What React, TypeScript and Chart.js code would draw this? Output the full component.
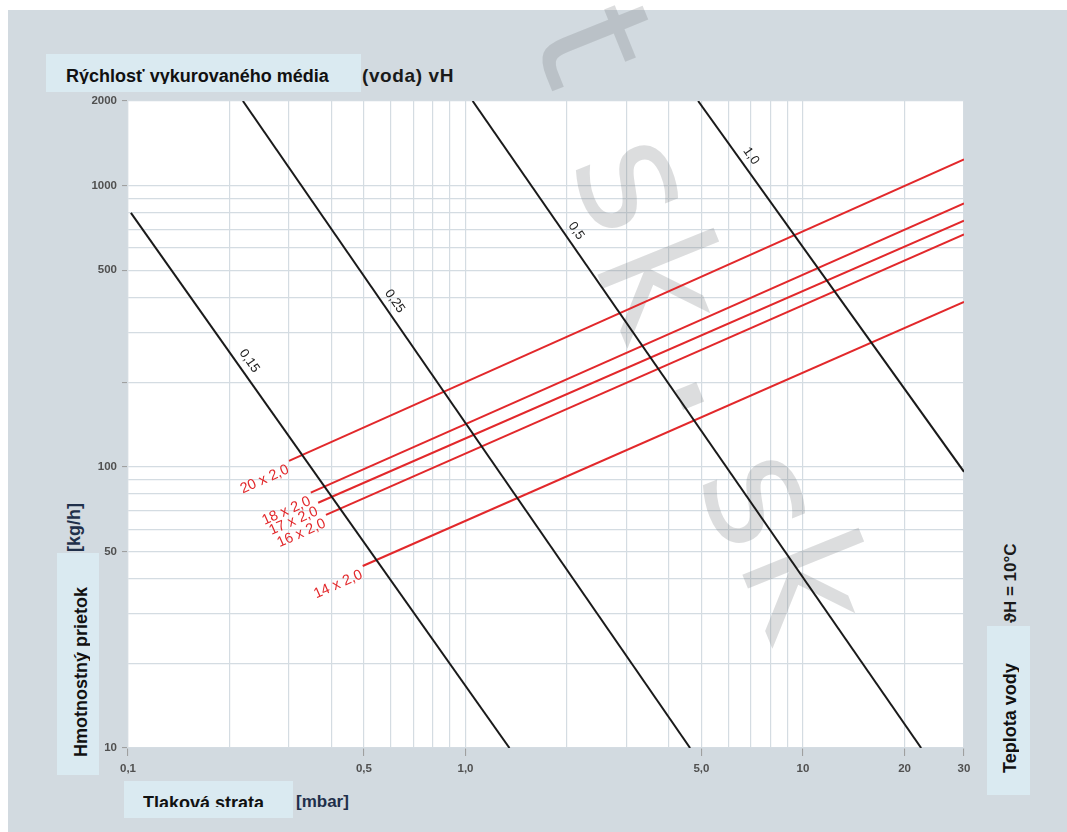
import React, { useEffect, useRef } from 'react';
import { Chart, registerables } from 'chart.js';

Chart.register(...registerables);

// ---------- axis data ----------
const xGridValues = [0.1, 0.2, 0.3, 0.4, 0.5, 0.6, 0.7, 0.8, 0.9, 1, 2, 3, 4, 5, 6, 7, 8, 9, 10, 20, 30];
const xTickValues = [0.1, 0.5, 1, 5, 10, 20, 30];
const xTickTexts = ['0,1', '0,5', '1,0', '5,0', '10', '20', '30'];

const yGridValues = [10, 20, 30, 40, 50, 60, 70, 80, 90, 100, 200, 300, 400, 500, 600, 700, 800, 900, 1000, 2000];
const yTickValues = [10, 50, 100, 200, 500, 1000, 2000];
const yTickTexts = ['10', '50', '100', '', '500', '1000', '2000'];

// ---------- velocity lines (black) ----------
const velocityLabels = ['0,15', '0,25', '0,5', '1,0'];
const velocityStartX = [0.102, 0.219, 1.05, 4.89];
const velocityStartY = [800, 2000, 2000, 2000];
const velocityEndX = [1.35, 4.63, 22.4, 30];
const velocityEndY = [10, 10, 10, 96];
const velocityLabelX = [0.215, 0.58, 2.0, 6.6];

// ---------- pipe lines (red) ----------
const pipeLabels = ['20 x 2,0', '18 x 2,0', '17 x 2,0', '16 x 2,0', '14 x 2,0'];
const pipeStartX = [0.3, 0.348, 0.366, 0.386, 0.496];
const pipeStartY = [105, 81, 74.5, 67.5, 44.4];
const pipeEndX = [30, 30, 30, 30, 30];
const pipeEndY = [1240, 865, 750, 671, 386];

// ---------- watermark glyphs ----------
const watermarkChars = ['t', 's', 'k', '·', 's', 'k'];

const GRID = '#d4dce2';
const PANEL = '#d2dae0';
const BOX = '#daeaf1';
const RED = '#e2282b';
const BLACK = '#1a1a1a';
const FONT = '"Liberation Sans", Arial, sans-serif';

const sameVal = (a: number, b: number) => Math.abs(Math.log10(a) - Math.log10(b)) < 1e-6;
const labelFor = (v: number, vals: number[], texts: string[]) => {
  const i = vals.findIndex((t) => sameVal(t, v));
  return i >= 0 ? texts[i] : '';
};
const isTick = (v: any, vals: number[]) => typeof v === 'number' && vals.some((t) => sameVal(t, v));

const logInterp = (x: number, x0: number, y0: number, x1: number, y1: number) => {
  const t = (Math.log10(x) - Math.log10(x0)) / (Math.log10(x1) - Math.log10(x0));
  return Math.pow(10, Math.log10(y0) + t * (Math.log10(y1) - Math.log10(y0)));
};

// decorative watermark placement (page pixels)
const WM_POS = [
  [574, 52],
  [618, 190],
  [642, 292],
  [680, 400],
  [745, 505],
  [787, 592],
];

const decorPlugin = {
  id: 'decor',
  beforeDraw(chart: any) {
    const { ctx, chartArea: a } = chart;
    ctx.save();
    ctx.fillStyle = '#ffffff';
    ctx.fillRect(a.left, a.top, a.right - a.left, a.bottom - a.top);
    ctx.restore();
  },
  beforeDatasetsDraw(chart: any) {
    const { ctx } = chart;
    ctx.save();
    ctx.fillStyle = 'rgba(120,124,126,0.26)';
    ctx.textAlign = 'center';
    ctx.textBaseline = 'middle';
    watermarkChars.forEach((ch, i) => {
      ctx.save();
      ctx.font = ch === '·' ? 'bold 120px "DejaVu Sans", sans-serif' : '165px "DejaVu Sans", sans-serif';
      ctx.translate(WM_POS[i][0], WM_POS[i][1]);
      ctx.rotate((68 * Math.PI) / 180);
      ctx.fillText(ch, 0, ch === '·' ? 0 : -8);
      ctx.restore();
    });
    ctx.restore();
  },
  afterDatasetsDraw(chart: any) {
    const { ctx } = chart;
    const xs = chart.scales.x;
    const ys = chart.scales.y;
    ctx.save();
    // velocity labels
    ctx.fillStyle = '#222';
    ctx.font = `13px ${FONT}`;
    ctx.textAlign = 'center';
    ctx.textBaseline = 'middle';
    velocityLabels.forEach((lab, i) => {
      const x0 = xs.getPixelForValue(velocityStartX[i]);
      const y0 = ys.getPixelForValue(velocityStartY[i]);
      const x1 = xs.getPixelForValue(velocityEndX[i]);
      const y1 = ys.getPixelForValue(velocityEndY[i]);
      const ang = Math.atan2(y1 - y0, x1 - x0);
      const lx = velocityLabelX[i];
      const ly = logInterp(lx, velocityStartX[i], velocityStartY[i], velocityEndX[i], velocityEndY[i]);
      const px = xs.getPixelForValue(lx);
      const py = ys.getPixelForValue(ly);
      ctx.save();
      ctx.translate(px, py);
      ctx.rotate(ang);
      ctx.fillText(lab, 0, -11);
      ctx.restore();
    });
    // pipe labels
    ctx.fillStyle = RED;
    ctx.font = `14.5px ${FONT}`;
    ctx.textAlign = 'right';
    ctx.textBaseline = 'middle';
    pipeLabels.forEach((lab, i) => {
      const x0 = xs.getPixelForValue(pipeStartX[i]);
      const y0 = ys.getPixelForValue(pipeStartY[i]);
      const x1 = xs.getPixelForValue(pipeEndX[i]);
      const y1 = ys.getPixelForValue(pipeEndY[i]);
      const ang = Math.atan2(y1 - y0, x1 - x0);
      ctx.save();
      ctx.translate(x0, y0);
      ctx.rotate(ang);
      ctx.fillText(lab, -4, 7);
      ctx.restore();
    });
    ctx.restore();
  },
};

function ClipText(props: {
  x: number; baseline: number; clipTop: number; clipBottom: number; text: string; size: number; color?: string; spacing?: number;
}) {
  const { x, baseline, clipTop, clipBottom, text, size, color, spacing } = props;
  return (
    <div style={{ position: 'absolute', left: x, top: clipTop, width: 400, height: clipBottom - clipTop, overflow: 'hidden' }}>
      <div
        style={{
          position: 'absolute', left: 0, top: baseline - 0.846 * size - clipTop, whiteSpace: 'nowrap',
          font: `bold ${size}px ${FONT}`, lineHeight: `${size}px`, color: color || '#111',
          letterSpacing: spacing ? `${spacing}px` : undefined,
        }}
      >
        {text}
      </div>
    </div>
  );
}

function RotText(props: {
  startY: number; baselineX: number; clipLeft: number; clipRight: number; text: string; size: number; color?: string;
}) {
  const { startY, baselineX, clipLeft, clipRight, text, size, color } = props;
  return (
    <div
      style={{
        position: 'absolute', left: clipLeft, top: startY, width: 300, height: clipRight - clipLeft, overflow: 'hidden',
        transform: 'rotate(-90deg)', transformOrigin: '0 0',
      }}
    >
      <div
        style={{
          position: 'absolute', left: 0, top: baselineX - clipLeft - 0.846 * size, whiteSpace: 'nowrap',
          font: `bold ${size}px ${FONT}`, lineHeight: `${size}px`, color: color || '#111',
        }}
      >
        {text}
      </div>
    </div>
  );
}

export default function App() {
  const ref = useRef<HTMLCanvasElement | null>(null);

  useEffect(() => {
    if (!ref.current) return;
    const datasets: any[] = [];
    velocityLabels.forEach((lab, i) => {
      datasets.push({
        label: lab,
        data: [
          { x: velocityStartX[i], y: velocityStartY[i] },
          { x: velocityEndX[i], y: velocityEndY[i] },
        ],
        borderColor: BLACK,
        borderWidth: 2,
        pointRadius: 0,
        fill: false,
        tension: 0,
      });
    });
    pipeLabels.forEach((lab, i) => {
      datasets.push({
        label: lab,
        data: [
          { x: pipeStartX[i], y: pipeStartY[i] },
          { x: pipeEndX[i], y: pipeEndY[i] },
        ],
        borderColor: RED,
        borderWidth: 2,
        pointRadius: 0,
        fill: false,
        tension: 0,
      });
    });

    const tickFont = { family: FONT, size: 11.5, weight: 'bold' as const };
    const chart = new Chart(ref.current, {
      type: 'line',
      data: { datasets },
      plugins: [decorPlugin],
      options: {
        animation: false,
        responsive: false,
        devicePixelRatio: 1,
        layout: { padding: { left: 0, top: 101, right: 103, bottom: 0 } },
        plugins: { legend: { display: false }, tooltip: { enabled: false }, title: { display: false } },
        scales: {
          x: {
            type: 'logarithmic',
            min: 0.1,
            max: 30,
            position: 'bottom',
            afterBuildTicks: (s: any) => {
              s.ticks = xGridValues.map((v) => ({ value: v }));
            },
            afterFit: (s: any) => {
              s.height = 84;
            },
            ticks: {
              autoSkip: false,
              maxRotation: 0,
              minRotation: 0,
              padding: 6,
              color: '#505050',
              font: tickFont,
              callback: (v: any) => labelFor(Number(v), xTickValues, xTickTexts),
            },
            grid: {
              color: GRID,
              lineWidth: 1.2,
              drawTicks: true,
              tickLength: 8,
              tickWidth: 1,
              tickColor: (c: any) => (isTick(c.tick && c.tick.value, xTickValues) ? '#9a9a9a' : 'rgba(0,0,0,0)'),
            },
            border: { display: true, color: GRID, width: 1.2 },
          },
          y: {
            type: 'logarithmic',
            min: 10,
            max: 2000,
            position: 'left',
            afterBuildTicks: (s: any) => {
              s.ticks = yGridValues.map((v) => ({ value: v }));
            },
            afterFit: (s: any) => {
              s.width = 128;
            },
            ticks: {
              autoSkip: false,
              padding: 5,
              color: '#505050',
              font: tickFont,
              callback: (v: any) => labelFor(Number(v), yTickValues, yTickTexts),
            },
            grid: {
              color: GRID,
              lineWidth: 1.2,
              drawTicks: true,
              tickLength: 6,
              tickWidth: 1,
              tickColor: (c: any) => (isTick(c.tick && c.tick.value, yTickValues) ? '#9a9a9a' : 'rgba(0,0,0,0)'),
            },
            border: { display: true, color: GRID, width: 1.2 },
          },
        },
      } as any,
    });
    return () => chart.destroy();
  }, []);

  return (
    <div style={{ position: 'absolute', left: 0, top: 0, width: 1067, height: 832, overflow: 'hidden', background: '#fff' }}>
      <div style={{ position: 'absolute', left: 8, top: 10, width: 1059, height: 822, background: PANEL }} />
      {/* top title */}
      <div style={{ position: 'absolute', left: 46, top: 54, width: 315, height: 38, background: BOX }} />
      <ClipText x={66} baseline={82} clipTop={56} clipBottom={84} text="Rýchlosť vykurovaného média" size={18} />
      <ClipText x={362} baseline={82} clipTop={56} clipBottom={95} text="(voda) vH" size={19} color="#1a1a1a" spacing={0.6} />
      {/* bottom title */}
      <div style={{ position: 'absolute', left: 124, top: 781, width: 169, height: 37, background: BOX }} />
      <ClipText x={143} baseline={809.5} clipTop={785} clipBottom={807} text="Tlaková strata" size={18} />
      <ClipText x={296} baseline={807} clipTop={785} clipBottom={820} text="[mbar]" size={17} color="#1f2f4a" />
      {/* left title */}
      <div style={{ position: 'absolute', left: 57, top: 553, width: 42, height: 222, background: BOX }} />
      <RotText startY={757} baselineX={87} clipLeft={60} clipRight={90} text="Hmotnostný prietok" size={18} />
      <RotText startY={552} baselineX={80} clipLeft={60} clipRight={92} text="[kg/h]" size={18} color="#1f2f4a" />
      {/* right title */}
      <div style={{ position: 'absolute', left: 987, top: 626, width: 43, height: 169, background: BOX }} />
      <RotText startY={773} baselineX={1016} clipLeft={990} clipRight={1018.5} text="Teplota vody" size={18} />
      <RotText startY={623} baselineX={1016} clipLeft={990} clipRight={1030} text="ϑH = 10°C" size={17} color="#1a1a1a" />
      <canvas ref={ref} width={1067} height={832} style={{ position: 'absolute', left: 0, top: 0, width: 1067, height: 832 }} />
    </div>
  );
}
